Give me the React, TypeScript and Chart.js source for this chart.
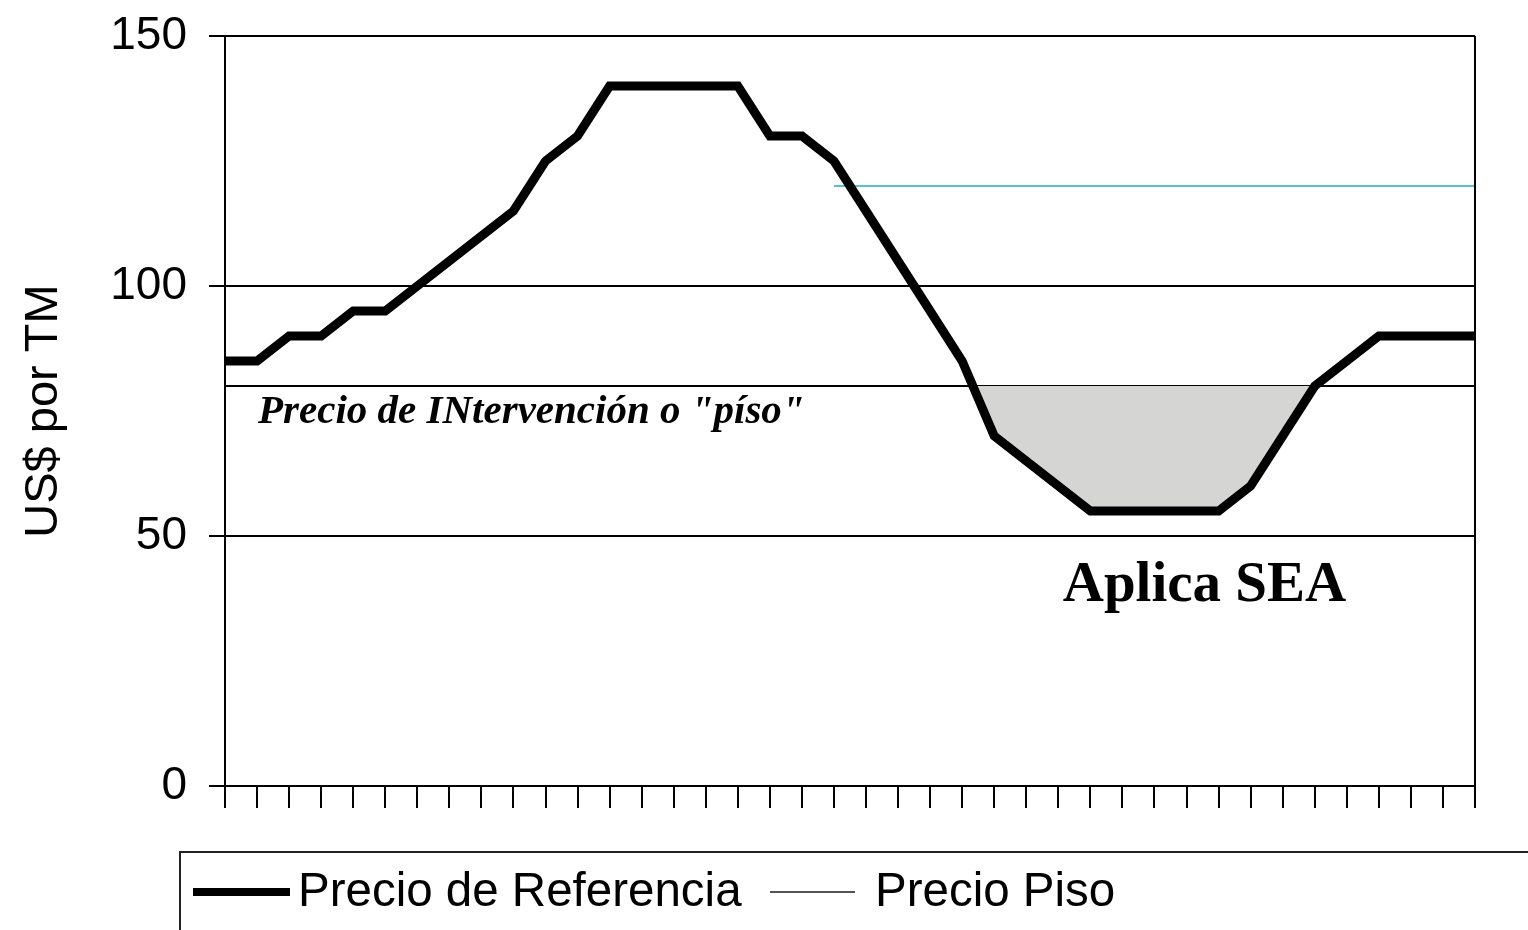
import React, { useEffect, useRef } from "react";
import { Chart, registerables } from "chart.js";

Chart.register(...registerables);

const periods = [
  "1", "2", "3", "4", "5", "6", "7", "8", "9", "10",
  "11", "12", "13", "14", "15", "16", "17", "18", "19", "20",
  "21", "22", "23", "24", "25", "26", "27", "28", "29", "30",
  "31", "32", "33", "34", "35", "36", "37", "38", "39", "40",
];

const precioReferencia = [
  85, 85, 90, 90, 95, 95, 100, 105, 110, 115,
  125, 130, 140, 140, 140, 140, 140, 130, 130, 125,
  115, 105, 95, 85, 70, 65, 60, 55, 55, 55,
  55, 55, 60, 70, 80, 85, 90, 90, 90, 90,
];

const precioPiso = [
  null, null, null, null, null, null, null, null, null, null,
  null, null, null, null, null, null, null, null, null, 120,
  120, 120, 120, 120, 120, 120, 120, 120, 120, 120,
  120, 120, 120, 120, 120, 120, 120, 120, 120, 120,
];

const precioIntervencion = [
  80, 80, 80, 80, 80, 80, 80, 80, 80, 80,
  80, 80, 80, 80, 80, 80, 80, 80, 80, 80,
  80, 80, 80, 80, 80, 80, 80, 80, 80, 80,
  80, 80, 80, 80, 80, 80, 80, 80, 80, 80,
];

const seriesNames = ["Precio de Referencia", "Precio Piso", "Precio de Intervención"];
const yAxisTitle = "US$ por TM";
const interventionNote = 'Precio de INtervención o "píso"';
const seaNote = "Aplica SEA";

const SANS = '"Liberation Sans", Arial, sans-serif';
const SERIF = '"Liberation Serif", "Times New Roman", serif';

const overlayPlugin = {
  id: "overlayPlugin",
  afterDatasetsDraw(chart: any) {
    const { ctx, chartArea, scales } = chart;
    const x = scales.x;
    const y = scales.y;
    ctx.save();
    ctx.strokeStyle = "#000";
    ctx.lineWidth = 2;
    ctx.beginPath();
    ctx.moveTo(chartArea.right, chartArea.top);
    ctx.lineTo(chartArea.right, chartArea.bottom);
    ctx.stroke();

    ctx.fillStyle = "#000";
    ctx.textBaseline = "middle";
    ctx.textAlign = "left";
    ctx.font = `italic bold 41px ${SERIF}`;
    ctx.fillText(interventionNote, x.getPixelForValue(1) + 1, y.getPixelForValue(74.8));

    ctx.textAlign = "center";
    ctx.font = `bold 57px ${SERIF}`;
    ctx.fillText(seaNote, x.getPixelForValue(30.56), y.getPixelForValue(40.0));
    ctx.restore();
  },
  afterDraw(chart: any) {
    const { ctx } = chart;
    ctx.save();
    ctx.strokeStyle = "#222";
    ctx.lineWidth = 2;
    ctx.strokeRect(180, 852, 1400, 120);
    const cy = 892;
    ctx.strokeStyle = "#000";
    ctx.lineWidth = 8;
    ctx.beginPath();
    ctx.moveTo(193, cy);
    ctx.lineTo(290, cy);
    ctx.stroke();
    ctx.fillStyle = "#000";
    ctx.font = `47.5px ${SANS}`;
    ctx.textAlign = "left";
    ctx.textBaseline = "middle";
    ctx.fillText(seriesNames[0], 298, cy + 1);
    ctx.strokeStyle = "#555";
    ctx.lineWidth = 2;
    ctx.beginPath();
    ctx.moveTo(770, cy);
    ctx.lineTo(855, cy);
    ctx.stroke();
    ctx.fillText(seriesNames[1], 875, cy + 1);
    ctx.restore();
  },
};

export default function App() {
  const canvasRef = useRef<HTMLCanvasElement | null>(null);

  useEffect(() => {
    if (!canvasRef.current) return;
    const chart = new Chart(canvasRef.current, {
      type: "line",
      data: {
        labels: periods,
        datasets: [
          {
            label: seriesNames[0],
            data: precioReferencia,
            borderColor: "#000",
            borderWidth: 9,
            pointRadius: 0,
            tension: 0,
            borderJoinStyle: "miter",
            fill: { target: 2, above: "rgba(0,0,0,0)", below: "#d5d5d3" },
          },
          {
            label: seriesNames[1],
            data: precioPiso,
            borderColor: "#5bbfcf",
            borderWidth: 2,
            pointRadius: 0,
            fill: false,
          },
          {
            label: seriesNames[2],
            data: precioIntervencion,
            borderColor: "#000",
            borderWidth: 2,
            pointRadius: 0,
            fill: false,
          },
        ],
      },
      options: {
        animation: false,
        responsive: true,
        maintainAspectRatio: false,
        layout: { padding: { top: 36, right: 53, left: 0, bottom: 0 } },
        plugins: {
          legend: { display: false },
          tooltip: { enabled: false },
        },
        scales: {
          x: {
            type: "category",
            offset: false,
            grid: {
              display: true,
              drawOnChartArea: false,
              drawTicks: true,
              tickLength: 22,
              color: "#000",
              lineWidth: 2,
              offset: false,
            },
            border: { display: true, color: "#000", width: 2 },
            ticks: {
              autoSkip: false,
              maxRotation: 0,
              font: { size: 1 },
              callback: () => "",
            },
            afterFit: (scale: any) => {
              scale.height = 144;
              scale.paddingLeft = 0;
              scale.paddingRight = 0;
            },
          },
          y: {
            min: 0,
            max: 150,
            ticks: {
              stepSize: 50,
              color: "#000",
              padding: 22,
              font: { family: SANS, size: 46 },
            },
            grid: {
              color: "#000",
              lineWidth: 2,
              tickLength: 16,
            },
            border: { display: true, color: "#000", width: 2 },
            title: {
              display: true,
              text: yAxisTitle,
              color: "#000",
              font: { family: SANS, size: 47 },
              padding: { top: 16, bottom: 0 },
            },
            afterFit: (scale: any) => {
              scale.width = 225;
              scale.paddingTop = 0;
              scale.paddingBottom = 0;
            },
          },
        },
      },
      plugins: [overlayPlugin],
    });
    return () => chart.destroy();
  }, []);

  return (
    <div
      style={{
        position: "fixed",
        left: 0,
        top: 0,
        width: 1528,
        height: 930,
        background: "#fff",
      }}
    >
      <canvas ref={canvasRef} />
    </div>
  );
}
